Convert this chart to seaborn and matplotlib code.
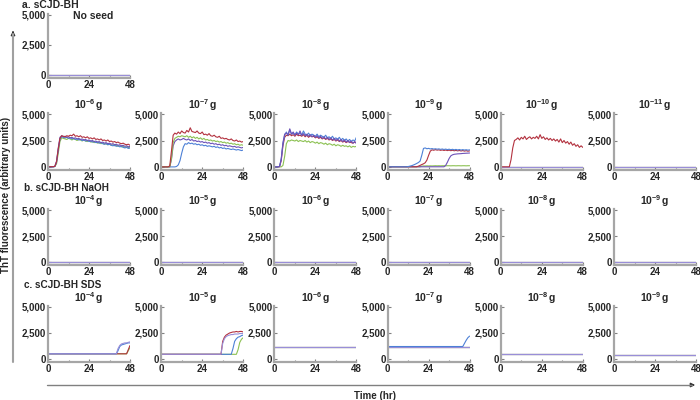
import matplotlib
matplotlib.use('Agg')
import matplotlib.pyplot as plt
import seaborn as sns
from matplotlib.lines import Line2D
from matplotlib.patches import FancyArrowPatch

# ------------------------------------------------------------
# data (ThT fluorescence)
# ------------------------------------------------------------
hours = list(range(0, 49))
flat_hours = [0, 48]
sds_hours = [0, 34, 35, 36, 37, 38, 39, 40, 41, 42, 43, 44, 45, 46, 47, 48]

# a. sCJD-BH, 10^-6 g
bh6_red = [30, 30, 30, 30, 60, 500, 1700, 2700, 2950, 2900, 2850, 2950, 2900, 3000, 2950, 3100, 2900, 2950, 2850, 2950, 2800, 2850, 2750, 2850, 2700, 2750, 2650, 2750, 2600, 2650, 2550, 2650, 2500, 2550, 2450, 2550, 2400, 2450, 2350, 2400, 2300, 2350, 2250, 2200, 2250, 2150, 2100, 2150, 2050]
bh6_green = [20, 20, 20, 20, 40, 300, 1300, 2400, 2750, 2700, 2650, 2600, 2700, 2650, 2550, 2650, 2600, 2500, 2600, 2550, 2450, 2550, 2450, 2400, 2500, 2350, 2400, 2300, 2350, 2250, 2300, 2200, 2250, 2150, 2200, 2100, 2150, 2050, 2100, 2000, 2050, 1950, 2000, 1900, 1950, 1850, 1900, 1850, 1800]
bh6_blue = [10, 10, 10, 10, 50, 450, 1600, 2650, 2850, 2800, 2750, 2800, 2700, 2750, 2650, 2700, 2600, 2650, 2550, 2600, 2500, 2550, 2450, 2500, 2400, 2450, 2350, 2400, 2300, 2350, 2250, 2300, 2200, 2150, 2200, 2100, 2150, 2050, 2000, 2050, 1950, 2000, 1900, 1950, 1850, 1800, 1850, 1750, 1800]
bh6_purple = [20, 20, 20, 20, 60, 550, 1800, 2800, 2950, 2850, 2900, 2800, 2850, 2750, 2800, 2700, 2750, 2650, 2700, 2600, 2650, 2550, 2600, 2500, 2550, 2450, 2500, 2400, 2450, 2350, 2400, 2300, 2350, 2250, 2300, 2200, 2250, 2150, 2200, 2100, 2150, 2050, 2100, 2000, 2050, 1950, 2000, 1900, 1950]

# 10^-7 g
bh7_red = [10, 10, 10, 10, 10, 100, 1500, 3000, 3200, 3100, 3300, 3150, 3400, 3250, 3200, 3450, 3300, 3700, 3350, 3300, 3250, 3400, 3200, 3150, 3300, 3050, 3100, 3000, 3150, 2950, 2900, 3000, 2850, 2800, 2900, 2700, 2750, 2650, 2700, 2600, 2550, 2650, 2500, 2450, 2550, 2400, 2450, 2350, 2400]
bh7_green = [10, 10, 10, 10, 10, 10, 800, 2300, 2700, 2800, 2900, 2850, 2950, 2900, 2850, 2950, 2800, 2900, 2750, 2850, 2700, 2800, 2650, 2750, 2600, 2700, 2550, 2600, 2500, 2550, 2450, 2500, 2400, 2450, 2350, 2400, 2300, 2350, 2250, 2300, 2200, 2250, 2150, 2200, 2100, 2150, 2050, 2100, 2050]
bh7_purple = [10, 10, 10, 10, 10, 10, 700, 2000, 2400, 2550, 2650, 2550, 2600, 2700, 2600, 2550, 2650, 2500, 2600, 2450, 2500, 2400, 2450, 2350, 2400, 2300, 2350, 2250, 2300, 2200, 2250, 2150, 2200, 2100, 2150, 2050, 2100, 2000, 2050, 1950, 2000, 1950, 1900, 1950, 1850, 1900, 1850, 1800, 1850]
bh7_blue = [10, 10, 10, 10, 10, 10, 10, 10, 10, 50, 200, 600, 1300, 1900, 2200, 2150, 2300, 2200, 2250, 2150, 2200, 2100, 2150, 2050, 2100, 2000, 2050, 1950, 2000, 1950, 1900, 1950, 1850, 1900, 1800, 1850, 1750, 1800, 1700, 1750, 1700, 1650, 1700, 1650, 1600, 1650, 1600, 1550, 1600]

# 10^-8 g
bh8_green = [10, 10, 10, 10, 10, 150, 1000, 2200, 2500, 2450, 2550, 2500, 2450, 2550, 2400, 2500, 2450, 2400, 2500, 2350, 2450, 2300, 2400, 2350, 2250, 2350, 2200, 2300, 2250, 2150, 2250, 2100, 2200, 2150, 2050, 2150, 2000, 2100, 2050, 1950, 2050, 1950, 2000, 1900, 2000, 1850, 1950, 1900, 1950]
bh8_red = [10, 10, 10, 30, 600, 2000, 2800, 3000, 2950, 3100, 2950, 3050, 2900, 3100, 2950, 3000, 2900, 3050, 2850, 3000, 2800, 2950, 2850, 2900, 2750, 2850, 2700, 2800, 2650, 2750, 2600, 2700, 2550, 2650, 2500, 2600, 2450, 2550, 2400, 2500, 2350, 2450, 2300, 2400, 2350, 2300, 2250, 2350, 2300]
bh8_blue = [10, 10, 10, 50, 800, 2200, 3000, 3300, 3000, 3500, 3100, 3200, 3050, 3300, 3100, 3200, 3000, 3400, 3100, 3000, 3200, 2950, 3100, 3000, 2900, 3100, 2850, 3000, 2900, 2800, 3000, 2750, 2850, 2700, 2900, 2650, 2750, 2600, 2800, 2550, 2700, 2500, 2650, 2450, 2600, 2400, 2550, 2450, 2800]
bh8_purple = [10, 10, 10, 40, 700, 2300, 3100, 3200, 3050, 3600, 3100, 3300, 3000, 3200, 3050, 3400, 3000, 3150, 2950, 3100, 2900, 3050, 2850, 3000, 2800, 2950, 2750, 2900, 2700, 2850, 2650, 2800, 2600, 2750, 2550, 2700, 2500, 2650, 2450, 2600, 2400, 2550, 2350, 2500, 2300, 2450, 2250, 2400, 2200]

# 10^-9 g
bh9_green = [20, 20, 20, 20, 20, 20, 20, 20, 20, 20, 20, 20, 20, 20, 20, 20, 20, 20, 20, 20, 80, 100, 100, 110, 100, 110, 100, 110, 120, 110, 120, 110, 120, 120, 110, 120, 120, 110, 120, 120, 110, 120, 120, 110, 120, 120, 110, 120, 120]
bh9_blue = [20, 20, 20, 20, 20, 20, 20, 20, 20, 20, 20, 20, 40, 80, 120, 180, 250, 330, 420, 550, 1100, 1750, 1800, 1720, 1760, 1700, 1740, 1690, 1720, 1680, 1710, 1660, 1700, 1650, 1690, 1640, 1680, 1630, 1670, 1620, 1660, 1610, 1650, 1600, 1640, 1600, 1630, 1590, 1620]
bh9_red = [20, 20, 20, 20, 20, 20, 20, 20, 20, 20, 20, 20, 20, 20, 20, 20, 20, 20, 80, 150, 230, 300, 400, 650, 1100, 1500, 1620, 1580, 1640, 1590, 1620, 1570, 1610, 1560, 1600, 1550, 1590, 1540, 1580, 1530, 1570, 1520, 1560, 1510, 1550, 1500, 1540, 1490, 1520]
bh9_purple = [20, 20, 20, 20, 20, 20, 20, 20, 20, 20, 20, 20, 20, 20, 20, 20, 20, 20, 20, 20, 20, 20, 20, 20, 20, 20, 20, 20, 20, 20, 20, 20, 20, 20, 150, 450, 800, 1050, 1150, 1200, 1220, 1240, 1250, 1260, 1280, 1290, 1300, 1310, 1320]

# 10^-10 g
bh10_red = [20, 20, 20, 20, 20, 20, 700, 1800, 2500, 2600, 2750, 2550, 2800, 2650, 2900, 2600, 2750, 2850, 2650, 2800, 2700, 2900, 2650, 3050, 2700, 2850, 2600, 2750, 2550, 2700, 2500, 2650, 2450, 2600, 2350, 2650, 2300, 2500, 2250, 2400, 2150, 2350, 2050, 2200, 1950, 2100, 1850, 2000, 1850]

# flat (no seeding) traces
flat_zero = [40, 40]

# c. sCJD-BH SDS
sds4_purple = [500, 500, 500, 500, 500, 500, 500, 500, 1000, 1300, 1450, 1500, 1550, 1550, 1600, 1650]
sds4_blue = [500, 500, 500, 500, 500, 500, 500, 500, 800, 1200, 1350, 1400, 1450, 1500, 1550, 1550]
sds4_red = [500, 500, 500, 500, 500, 500, 500, 500, 500, 500, 500, 500, 500, 500, 900, 1300]
sds4_green = [500, 500, 500, 500, 500, 500, 500, 500, 500, 500, 500, 500, 500, 500, 800, 1100]

sds5_red = [450, 450, 450, 1700, 2100, 2300, 2400, 2500, 2550, 2600, 2600, 2650, 2600, 2650, 2650, 2600]
sds5_purple = [450, 450, 450, 1500, 1950, 2150, 2250, 2300, 2350, 2350, 2400, 2400, 2400, 2450, 2450, 2450]
sds5_blue = [450, 450, 450, 450, 450, 450, 450, 450, 450, 1000, 1700, 1950, 2100, 2150, 2250, 2300]
sds5_green = [450, 450, 450, 450, 450, 450, 450, 450, 450, 450, 450, 450, 900, 1600, 1900, 2050]

sds6_flat = [1200, 1200]
sds7_blue = [1200, 1200, 1200, 1200, 1200, 1200, 1200, 1200, 1200, 1200, 1200, 1200, 1500, 1800, 2050, 2200]
sds8_flat = [450, 450]
sds9_flat = [350, 350]

RED = '#b3323f'
GREEN = '#8cc152'
BLUE = '#4d80d6'
PURPLE = '#6d52b8'
LAVENDER = '#998ed8'

# ------------------------------------------------------------
# style
# ------------------------------------------------------------
sns.set_style('ticks')
plt.rcParams['font.family'] = ['Liberation Sans', 'DejaVu Sans']
plt.rcParams['font.weight'] = 'bold'
plt.rcParams['mathtext.fontset'] = 'custom'
plt.rcParams['mathtext.rm'] = 'Liberation Sans:bold'
plt.rcParams['mathtext.it'] = 'Liberation Sans:bold'
plt.rcParams['mathtext.bf'] = 'Liberation Sans:bold'
plt.rcParams['mathtext.default'] = 'bf'

W, H = 700, 400
fig = plt.figure(figsize=(7, 4), dpi=100)

# pixel rows: (y of 0, y of 5000)
row_y = {0: (75, 15), 1: (167, 114), 2: (262, 210), 3: (359, 307)}


def make_panel(row, col, title, series):
    y_zero, y_5k = row_y[row]
    ppu = (y_zero - y_5k) / 5000
    top = y_5k - 100 * ppu
    bottom = y_zero + 250 * ppu
    left = 48 + 113.2 * col
    ax = fig.add_axes([left / W, 1 - bottom / H, 82 / W, (bottom - top) / H])
    for x, y, c in series:
        sns.lineplot(x=x, y=y, ax=ax, color=c, linewidth=0.8)
    ax.set_xlim(0, 48)
    ax.set_ylim(-250, 5100)
    ax.set_xticks([0, 24, 48])
    ax.set_xticks([12, 36], minor=True)
    ax.set_yticks([0, 2500, 5000])
    ax.set_yticklabels(['0', '2,500', '5,000'])
    ax.set_xlabel('')
    ax.set_ylabel('')
    for s in ['top', 'right']:
        ax.spines[s].set_visible(False)
    for s in ['left', 'bottom']:
        ax.spines[s].set_color('#a6a6a6')
        ax.spines[s].set_linewidth(1.6)
    ax.tick_params(which='major', direction='in', length=2, width=0.8,
                   color='#808080', labelsize=7, pad=1.5)
    ax.tick_params(which='minor', direction='in', length=1.5, width=0.8,
                   color='#808080')
    for lab in ax.get_xticklabels() + ax.get_yticklabels():
        lab.set_fontweight('bold')
    if title:
        ax.set_title(title, fontsize=7.5, fontweight='bold', pad=1.5)
    return ax


def flat(level):
    return [(flat_hours, level, GREEN), (flat_hours, level, BLUE),
            (flat_hours, level, RED), (flat_hours, level, LAVENDER)]


def dose(exp):
    return r'$10^{-%d}\,g$' % exp


# a. sCJD-BH
make_panel(0, 0, None, flat(flat_zero))

make_panel(1, 0, dose(6), [(hours, bh6_green, GREEN), (hours, bh6_blue, BLUE),
                           (hours, bh6_purple, PURPLE), (hours, bh6_red, RED)])
make_panel(1, 1, dose(7), [(hours, bh7_blue, BLUE), (hours, bh7_purple, PURPLE),
                           (hours, bh7_green, GREEN), (hours, bh7_red, RED)])
make_panel(1, 2, dose(8), [(hours, bh8_green, GREEN), (hours, bh8_red, RED),
                           (hours, bh8_blue, BLUE), (hours, bh8_purple, PURPLE)])
make_panel(1, 3, dose(9), [(hours, bh9_green, GREEN), (hours, bh9_purple, PURPLE),
                           (hours, bh9_red, RED), (hours, bh9_blue, BLUE)])
make_panel(1, 4, dose(10), flat(flat_zero) + [(hours, bh10_red, RED)])
make_panel(1, 5, dose(11), flat(flat_zero))

# b. sCJD-BH NaOH
for i, e in enumerate([4, 5, 6, 7, 8, 9]):
    make_panel(2, i, dose(e), flat(flat_zero))

# c. sCJD-BH SDS
make_panel(3, 0, dose(4), [(sds_hours, sds4_green, GREEN), (sds_hours, sds4_red, RED),
                           (sds_hours, sds4_blue, BLUE), (sds_hours, sds4_purple, LAVENDER)])
make_panel(3, 1, dose(5), [(sds_hours, sds5_green, GREEN), (sds_hours, sds5_blue, BLUE),
                           (sds_hours, sds5_red, RED), (sds_hours, sds5_purple, LAVENDER)])
make_panel(3, 2, dose(6), flat(sds6_flat))
make_panel(3, 3, dose(7), flat(sds6_flat) + [(sds_hours, sds7_blue, BLUE)])
make_panel(3, 4, dose(8), flat(sds8_flat))
make_panel(3, 5, dose(9), flat(sds9_flat))

# ------------------------------------------------------------
# labels and arrows
# ------------------------------------------------------------
def fx(px):
    return px / W


def fy(py):
    return 1 - py / H


fig.text(fx(22), fy(5), 'a. sCJD-BH', fontsize=7.5, fontweight='bold', va='center')
fig.text(fx(93), fy(16), 'No seed', fontsize=7.5, fontweight='bold', va='center', ha='center')
fig.text(fx(24), fy(188.5), 'b. sCJD-BH NaOH', fontsize=7.2, fontweight='bold', va='center')
fig.text(fx(24), fy(285), 'c. sCJD-BH SDS', fontsize=7.2, fontweight='bold', va='center')
fig.text(fx(6), fy(195), 'ThT fluorescence (arbitrary units)', fontsize=7,
         fontweight='bold', rotation=90, va='center', ha='center')
fig.text(fx(375), fy(396), 'Time (hr)', fontsize=7, fontweight='bold',
         va='center', ha='center')

# vertical axis arrow
fig.add_artist(Line2D([fx(13), fx(13)], [fy(362), fy(34)], color='#a0a0a0',
                      linewidth=1.5, transform=fig.transFigure))
fig.add_artist(FancyArrowPatch((fx(13), fy(36)), (fx(13), fy(28)), arrowstyle='-|>',
                               mutation_scale=6, color='#333333',
                               transform=fig.transFigure))
# horizontal axis arrow
fig.add_artist(Line2D([fx(47), fx(692)], [fy(385), fy(385)], color='#808080',
                      linewidth=1.0, transform=fig.transFigure))
fig.add_artist(FancyArrowPatch((fx(688), fy(385)), (fx(698), fy(385)), arrowstyle='-|>',
                               mutation_scale=6, color='#333333',
                               transform=fig.transFigure))

fig.savefig('out.png', dpi=100)
